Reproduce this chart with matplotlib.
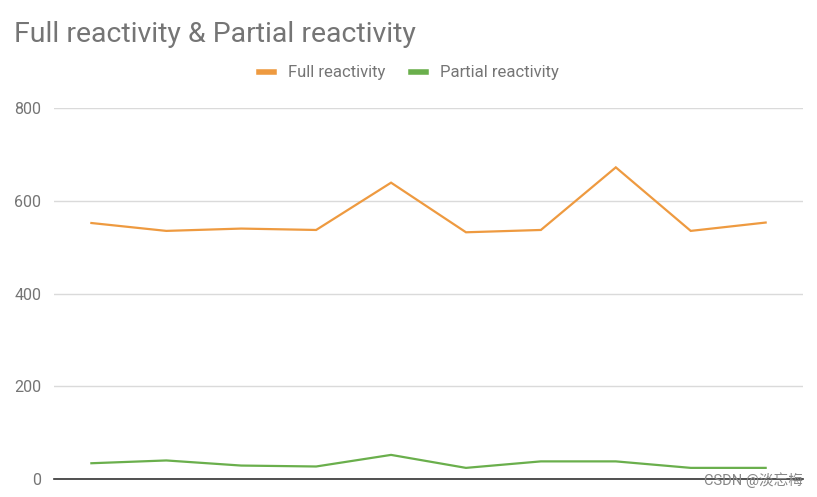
import matplotlib.pyplot as plt
from matplotlib.lines import Line2D

# values (10 points, no x labels shown)
points = list(range(10))
full_reactivity = [552, 535, 540, 537, 639, 532, 537, 672, 535, 553]
partial_reactivity = [34, 40, 29, 27, 52, 24, 38, 38, 24, 24]
y_ticks = [0, 200, 400, 600, 800]

orange = '#EE9A40'
green = '#6AAF4C'
grey_text = '#757575'

plt.rcParams['font.family'] = ['Roboto', 'Noto Sans CJK SC', 'DejaVu Sans']

fig = plt.figure(figsize=(8.17, 4.97), dpi=100)
ax = fig.add_axes([0.066, 0.0362, 0.917, 0.7465])

ax.plot(points, full_reactivity, color=orange, lw=1.6, solid_joinstyle='miter')
ax.plot(points, partial_reactivity, color=green, lw=1.6, solid_joinstyle='miter')

ax.set_xlim(-0.5, 9.5)
ax.set_ylim(0, 800)
ax.set_yticks(y_ticks)
ax.set_xticks([])
ax.tick_params(axis='y', length=0, pad=9, labelsize=11.5, labelcolor=grey_text)
ax.grid(axis='y', color='#DADADA', lw=1)
ax.set_axisbelow(True)
for side in ['top', 'right', 'left']:
    ax.spines[side].set_visible(False)
ax.spines['bottom'].set_color('#333333')
ax.spines['bottom'].set_linewidth(1.2)
ax.spines['bottom'].set_zorder(3)

fig.text(14 / 817, 1 - 35 / 497, 'Full reactivity & Partial reactivity',
         fontsize=20.5, color=grey_text, va='center', ha='left')

handles = [Line2D([], [], color=orange, lw=4), Line2D([], [], color=green, lw=4)]
fig.legend(handles, ['Full reactivity', 'Partial reactivity'], loc='center',
           bbox_to_anchor=(409 / 817, 1 - 73 / 497), ncol=2, frameon=False,
           handlelength=0.9, handletextpad=0.85, columnspacing=1.5,
           fontsize=12, labelcolor=grey_text)

fig.text(803 / 817, 1 - 480 / 497, 'CSDN @淡忘梅', fontsize=10.5, color='#888888',
         ha='right', va='center')

fig.savefig('out.png', dpi=100)
